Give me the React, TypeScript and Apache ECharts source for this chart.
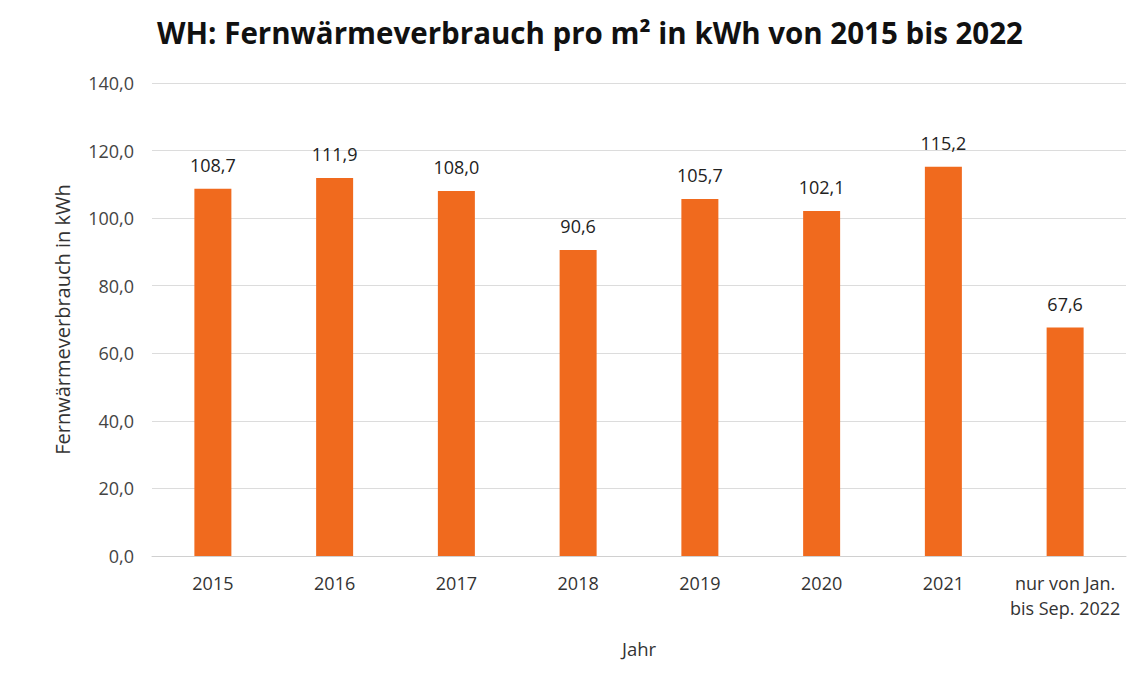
import React, { useEffect, useRef } from "react";
import * as echarts from "echarts";

const categories = ["2015", "2016", "2017", "2018", "2019", "2020", "2021", "nur von Jan.\nbis Sep. 2022"];
const values = [108.7, 111.9, 108.0, 90.6, 105.7, 102.1, 115.2, 67.6];
const titleText = "WH: Fernwärmeverbrauch pro m² in kWh von 2015 bis 2022";
const yAxisName = "Fernwärmeverbrauch in kWh";
const xAxisName = "Jahr";

const fmt = (v: number) => v.toFixed(1).replace(".", ",");

export default function App() {
  const ref = useRef<HTMLDivElement>(null);
  useEffect(() => {
    const chart = echarts.init(ref.current!, null, { renderer: "svg" });
    const font = "'Open Sans', 'Noto Sans', sans-serif";
    chart.setOption({
      animation: false,
      backgroundColor: "#ffffff",
      title: {
        text: titleText,
        left: 577,
        textAlign: "center",
        top: 4,
        textStyle: { fontFamily: font, fontWeight: "bold", fontSize: 29.5, color: "#111111" },
      },
      grid: { left: 144, right: 14, top: 75, bottom: 126 },
      xAxis: {
        type: "category",
        data: categories,
        name: xAxisName,
        nameLocation: "middle",
        nameGap: 83,
        nameTextStyle: { fontFamily: font, fontSize: 18.5, color: "#333333" },
        axisLine: { lineStyle: { color: "#d0d0d0" } },
        axisTick: { show: false },
        axisLabel: { fontFamily: font, fontSize: 18, color: "#333333", margin: 14, lineHeight: 25, interval: 0 },
      },
      yAxis: {
        type: "value",
        min: 0,
        max: 140,
        interval: 20,
        name: yAxisName,
        nameLocation: "middle",
        nameGap: 80,
        nameTextStyle: { fontFamily: font, fontSize: 20, color: "#333333" },
        axisLabel: { fontFamily: font, fontSize: 18, color: "#444444", margin: 18, formatter: (v: number) => fmt(v) },
        splitLine: { lineStyle: { color: "#dcdcdc" } },
        axisLine: { show: false },
        axisTick: { show: false },
      },
      series: [
        {
          type: "bar",
          data: values,
          barWidth: 37,
          itemStyle: { color: "#F06A1E" },
          label: {
            show: true,
            position: "top",
            distance: 15,
            fontFamily: font,
            fontSize: 18,
            color: "#222222",
            formatter: (p: any) => fmt(p.value),
          },
        },
      ],
    });
    return () => chart.dispose();
  }, []);
  return <div ref={ref} style={{ width: 1132, height: 674 }} />;
}
